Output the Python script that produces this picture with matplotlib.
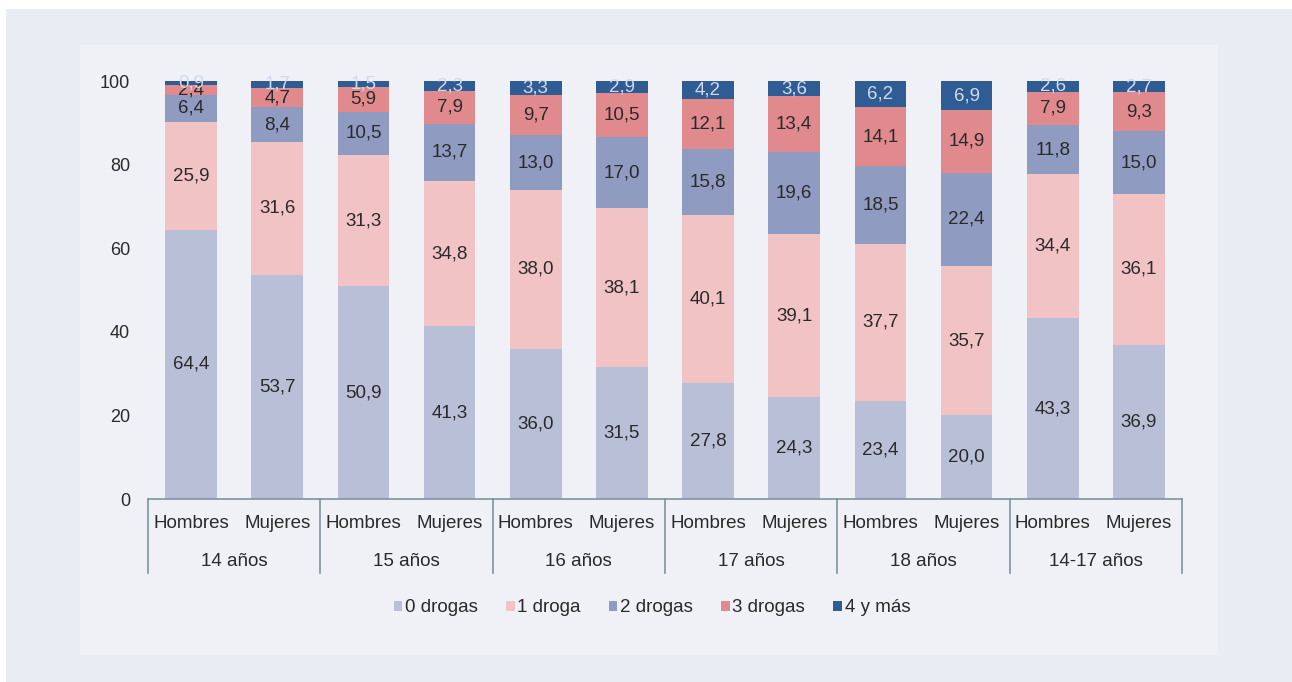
import numpy as np
import matplotlib.pyplot as plt
from matplotlib.patches import Rectangle

plt.rcParams['font.family'] = ['Liberation Sans', 'DejaVu Sans']

groups = ['14 años', '15 años', '16 años', '17 años', '18 años', '14-17 años']
sexes = ['Hombres', 'Mujeres']
series_names = ['0 drogas', '1 droga', '2 drogas', '3 drogas', '4 y más']

drogas0 = [64.4, 53.7, 50.9, 41.3, 36.0, 31.5, 27.8, 24.3, 23.4, 20.0, 43.3, 36.9]
drogas1 = [25.9, 31.6, 31.3, 34.8, 38.0, 38.1, 40.1, 39.1, 37.7, 35.7, 34.4, 36.1]
drogas2 = [6.4, 8.4, 10.5, 13.7, 13.0, 17.0, 15.8, 19.6, 18.5, 22.4, 11.8, 15.0]
drogas3 = [2.4, 4.7, 5.9, 7.9, 9.7, 10.5, 12.1, 13.4, 14.1, 14.9, 7.9, 9.3]
drogas4 = [0.9, 1.7, 1.5, 2.3, 3.3, 2.9, 4.2, 3.6, 6.2, 6.9, 2.6, 2.7]

colors = ['#b9bfd7', '#f1c3c5', '#8f9bc1', '#e08a8e', '#2f5c93']
label_colors = ['#2a2a2a', '#2a2a2a', '#2a2a2a', '#2a2a2a', '#cfdaec']

series = [drogas0, drogas1, drogas2, drogas3, drogas4]

W, H = 1292, 682
fig = plt.figure(figsize=(W / 100, H / 100), dpi=100, facecolor='#e9ecf3')
# white strips at top and left
fig.patches.append(Rectangle((0, 1 - 9 / H), 1, 9 / H, transform=fig.transFigure,
                             facecolor='white', edgecolor='none', zorder=-10))
fig.patches.append(Rectangle((0, 0), 6 / W, 1, transform=fig.transFigure,
                             facecolor='white', edgecolor='none', zorder=-10))
# inner panel
fig.patches.append(Rectangle((80 / W, (H - 655) / H), (1218 - 80) / W, (655 - 45) / H,
                             transform=fig.transFigure, facecolor='#eff1f6',
                             edgecolor='none', zorder=-10))

left, right = 148 / W, 1182 / W
bottom, top = (H - 499) / H, (H - 81) / H
ax = fig.add_axes([left, bottom, right - left, top - bottom])
ax.set_facecolor('none')

x = np.arange(12) + 0.5
base = np.zeros(12)
for name, vals, c, lc in zip(series_names, series, colors, label_colors):
    vals = np.array(vals)
    ax.bar(x, vals, width=0.6, bottom=base, color=c, label=name)
    for xi, b, v in zip(x, base, vals):
        ax.text(xi, b + v / 2, f'{v:.1f}'.replace('.', ','), ha='center', va='center',
                fontsize=13.5, color=lc)
    base = base + vals

ax.set_xlim(0, 12)
ax.set_ylim(0, 100)
ax.set_yticks([0, 20, 40, 60, 80, 100])
ax.tick_params(axis='y', length=0, labelsize=13, pad=13, colors='#2a2a2a')
ax.set_xticks([])
for s in ['top', 'right', 'left']:
    ax.spines[s].set_visible(False)
ax.spines['bottom'].set_color('#7d959c')
ax.spines['bottom'].set_linewidth(1.2)

# category labels and separators
trans = ax.get_xaxis_transform()
sep_len = (573 - 499) / (499 - 81)
for g in range(7):
    ax.plot([2 * g, 2 * g], [0, -sep_len], transform=trans, color='#7d959c',
            lw=1.2, clip_on=False)
for i, xi in enumerate(x):
    ax.text(xi, -(523 - 499) / (499 - 81), sexes[i % 2], transform=trans,
            ha='center', va='center', fontsize=13.5, color='#2a2a2a')
for g, name in enumerate(groups):
    ax.text(2 * g + 1, -(561 - 499) / (499 - 81), name, transform=trans,
            ha='center', va='center', fontsize=13.5, color='#2a2a2a')

leg = fig.legend(loc='center', bbox_to_anchor=(652 / W, (H - 608) / H), ncol=5,
                 frameon=False, fontsize=13.5, handlelength=0.45, handleheight=0.45,
                 handletextpad=0.15, columnspacing=1.5)
for t in leg.get_texts():
    t.set_color('#2a2a2a')

fig.savefig('out.png', dpi=100, facecolor=fig.get_facecolor())
